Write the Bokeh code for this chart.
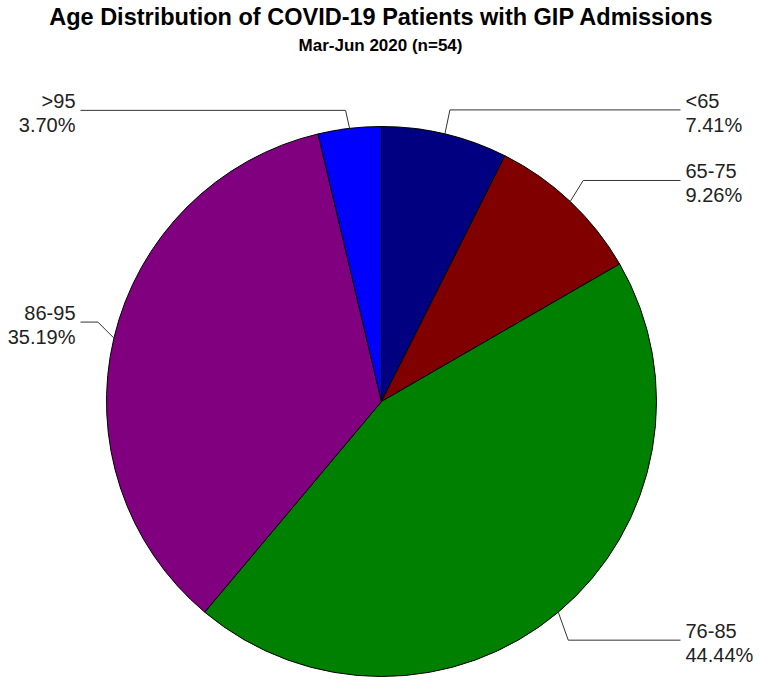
import math
from bokeh.plotting import figure
from bokeh.models import Range1d
from bokeh.core.properties import value
from bokeh.embed import file_html
from bokeh.resources import INLINE

# ---- data ----
categories = ["<65", "65-75", "76-85", "86-95", ">95"]
counts = [4, 5, 24, 19, 2]
pct_labels = ["7.41%", "9.26%", "44.44%", "35.19%", "3.70%"]
colors = ["#000080", "#800000", "#008000", "#800080", "#0000FF"]
title_text = "Age Distribution of COVID-19 Patients with GIP Admissions"
subtitle_text = "Mar-Jun 2020 (n=54)"

# ---- layout (leader-line elbow offsets from the slice edge, in px, screen dir) ----
elbow_offsets = [(5, -24), (13, -21), (10, 28), (-16, -16), (-4, -18)]

W, H = 761, 681
p = figure(width=W, height=H, output_backend="svg", toolbar_location=None,
           x_range=Range1d(0, W), y_range=Range1d(0, H), min_border=0)
p.axis.visible = False
p.grid.visible = False
p.outline_line_color = None
p.background_fill_color = "white"
p.border_fill_color = "white"

def px(x):  # page x -> data
    return x
def py(y):  # page y -> data
    return H - y

cx, cy, r = px(381), py(401), 275
total = float(sum(counts))
fracs = [c / total for c in counts]

starts, ends, mids = [], [], []
cum = 0.0
for f in fracs:
    a0 = cum * 2 * math.pi
    a1 = (cum + f) * 2 * math.pi
    # clockwise from top -> bokeh anticlockwise angles
    starts.append(math.pi / 2 - a1)
    ends.append(math.pi / 2 - a0)
    mids.append((a0 + a1) / 2)
    cum += f

p.wedge(x=[cx] * len(counts), y=[cy] * len(counts), radius=r,
        start_angle=starts, end_angle=ends, direction="anticlock",
        fill_color=colors, line_color="black", line_width=1)

# leader lines and labels
for cat, pl, m, (odx, ody) in zip(categories, pct_labels, mids, elbow_offsets):
    sx, sy = math.sin(m), math.cos(m)
    ex, ey = cx + r * sx, cy + r * sy
    bx, by = ex + odx, ey - ody
    if sx >= 0:
        endx = px(680)
        tx, align = px(685), "left"
    else:
        endx = px(80)
        tx, align = px(75), "right"
    p.line([ex, bx, endx], [ey, by, by], line_color="#333333", line_width=1)
    p.text(x=[tx, tx], y=[by + 9, by - 15], text=[cat, pl],
           text_align=align, text_baseline="middle",
           text_font=value("Liberation Sans"), text_font_size="20px",
           text_color="#222222")

p.text(x=[px(381)], y=[py(16)], text=[title_text], text_align="center",
       text_baseline="middle", text_font=value("Liberation Sans"),
       text_font_size="23.5px", text_font_style="bold", text_color="black")
p.text(x=[px(380)], y=[py(45)], text=[subtitle_text], text_align="center",
       text_baseline="middle", text_font=value("Liberation Sans"),
       text_font_size="17px", text_font_style="bold", text_color="black")

open("out.html", "w").write(file_html(p, INLINE))
